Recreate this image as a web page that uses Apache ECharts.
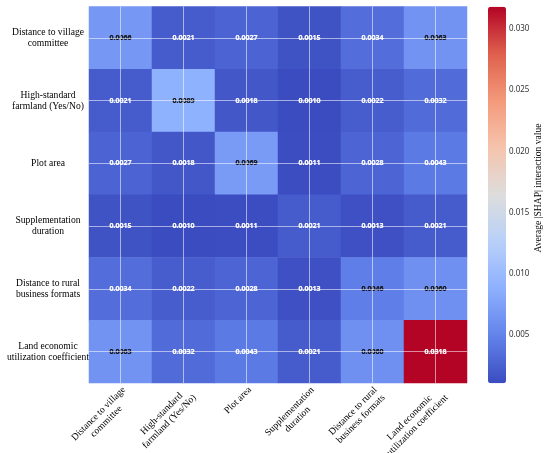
<!DOCTYPE html>
<html>
<head>
<meta charset="utf-8">
<title>SHAP interaction heatmap</title>
<script src="https://cdn.jsdelivr.net/npm/echarts@6/dist/echarts.min.js"></script>
<style>
  html, body { margin: 0; padding: 0; background: #fff; }
  #main { width: 550px; height: 453px; }
</style>
</head>
<body>
<div id="main"></div>
<script>
// feature names (rows top->bottom, columns left->right)
var features = [
    'Distance to village\ncommittee',
    'High-standard\nfarmland (Yes/No)',
    'Plot area',
    'Supplementation\nduration',
    'Distance to rural\nbusiness formats',
    'Land economic\nutilization coefficient'
];

// mean |SHAP| interaction values, one row per feature
var rowVillage  = [0.0066, 0.0021, 0.0027, 0.0015, 0.0034, 0.0063];
var rowHighStd  = [0.0021, 0.0089, 0.0018, 0.0010, 0.0022, 0.0032];
var rowPlot     = [0.0027, 0.0018, 0.0069, 0.0011, 0.0028, 0.0043];
var rowSupp     = [0.0015, 0.0010, 0.0011, 0.0021, 0.0013, 0.0021];
var rowRural    = [0.0034, 0.0022, 0.0028, 0.0013, 0.0046, 0.0060];
var rowLandEcon = [0.0063, 0.0032, 0.0043, 0.0021, 0.0060, 0.0318];

var colorMin = 0.0010;
var colorMax = 0.0318;
var colorbarStep = 0.005;

// matplotlib coolwarm
var coolwarm = ['#3b4cc0', '#6282ea', '#8db0fe', '#b8d0f9', '#dddddd',
                '#f5c4ad', '#f49a7b', '#de604d', '#b40426'];

var rows = [rowVillage, rowHighStd, rowPlot, rowSupp, rowRural, rowLandEcon];
var cells = [];
rows.forEach(function (row, y) {
    row.forEach(function (v, x) {
        var c = (v >= 0.0045 && v < 0.02) ? '#111' : '#fff';
        cells.push({
            value: [x, y, v],
            label: { color: c, textBorderColor: c, textBorderWidth: 0.2 }
        });
    });
});

var serif = '"Liberation Serif", "Times New Roman", serif';
var labelSize = 9.6;

// x labels: rotated, lines centred on each other -> rich block per label
var ctx = document.createElement('canvas').getContext('2d');
ctx.font = labelSize + 'px "Liberation Serif"';
var xRich = {};
features.forEach(function (f, i) {
    var w = 0;
    f.split('\n').forEach(function (line) {
        w = Math.max(w, ctx.measureText(line).width);
    });
    xRich['t' + i] = {
        width: Math.ceil(w) + 1, align: 'center',
        fontFamily: serif, fontSize: labelSize, lineHeight: 11, color: '#000'
    };
});

var gridLines = [];
features.forEach(function (f, i) {
    gridLines.push({ xAxis: i });
    gridLines.push({ yAxis: i });
});

var chart = echarts.init(document.getElementById('main'));
chart.setOption({
    backgroundColor: '#fff',
    animation: false,
    grid: [
        { left: 89, top: 6.5, width: 378, height: 376.5, outerBoundsMode: 'none', containLabel: false },
        { left: 488, top: 6.7, width: 18, height: 389.6, outerBoundsMode: 'none', containLabel: false }
    ],
    xAxis: [
        {
            type: 'category', gridIndex: 0, data: features,
            axisLine: { show: false }, axisTick: { show: false },
            splitLine: { show: false },
            axisLabel: {
                interval: 0, rotate: 45, margin: 1,
                align: 'right', verticalAlign: 'top',
                formatter: function (v, i) {
                    return v.split('\n').map(function (line) {
                        return '{t' + i + '|' + line + '}';
                    }).join('\n');
                },
                rich: xRich
            }
        },
        { type: 'value', gridIndex: 1, show: false, min: 0, max: 1 }
    ],
    yAxis: [
        {
            type: 'category', gridIndex: 0, data: features, inverse: true,
            axisLine: { show: false }, axisTick: { show: false },
            splitLine: { show: false },
            axisLabel: {
                interval: 0, align: 'center', margin: 41,
                fontFamily: serif, fontSize: labelSize, lineHeight: 11, color: '#000'
            }
        },
        {
            type: 'value', gridIndex: 1, position: 'right',
            min: 0, max: colorMax, interval: colorbarStep,
            axisLine: { show: false }, axisTick: { show: false },
            splitLine: { show: false },
            axisLabel: {
                margin: 3, showMinLabel: false, showMaxLabel: false,
                fontFamily: '"Noto Sans", sans-serif', fontSize: 8, color: '#333',
                formatter: function (v) { return v.toFixed(3); }
            }
        }
    ],
    visualMap: {
        type: 'continuous', seriesIndex: 0,
        min: colorMin, max: colorMax,
        calculable: false, text: ['', ''], showLabel: false,
        left: 488, top: 6.7, padding: 0,
        itemWidth: 18, itemHeight: 376.5,
        inRange: { color: coolwarm }
    },
    graphic: [{
        type: 'text', x: 538, y: 188, rotation: Math.PI / 2,
        style: {
            text: 'Average |SHAP| interaction value',
            font: labelSize + 'px "Liberation Serif"',
            fill: '#000', align: 'center', verticalAlign: 'middle'
        }
    }],
    series: [{
        type: 'heatmap',
        xAxisIndex: 0, yAxisIndex: 0,
        data: cells,
        label: {
            show: true,
            fontFamily: '"Noto Sans", sans-serif', fontSize: 7, fontWeight: 'bold',
            formatter: function (p) { return p.value[2].toFixed(4); }
        },
        markLine: {
            silent: true, symbol: 'none', animation: false,
            label: { show: false },
            lineStyle: { color: 'rgba(255,255,255,0.55)', width: 1, type: 'solid' },
            data: gridLines
        }
    }]
});
</script>
</body>
</html>
